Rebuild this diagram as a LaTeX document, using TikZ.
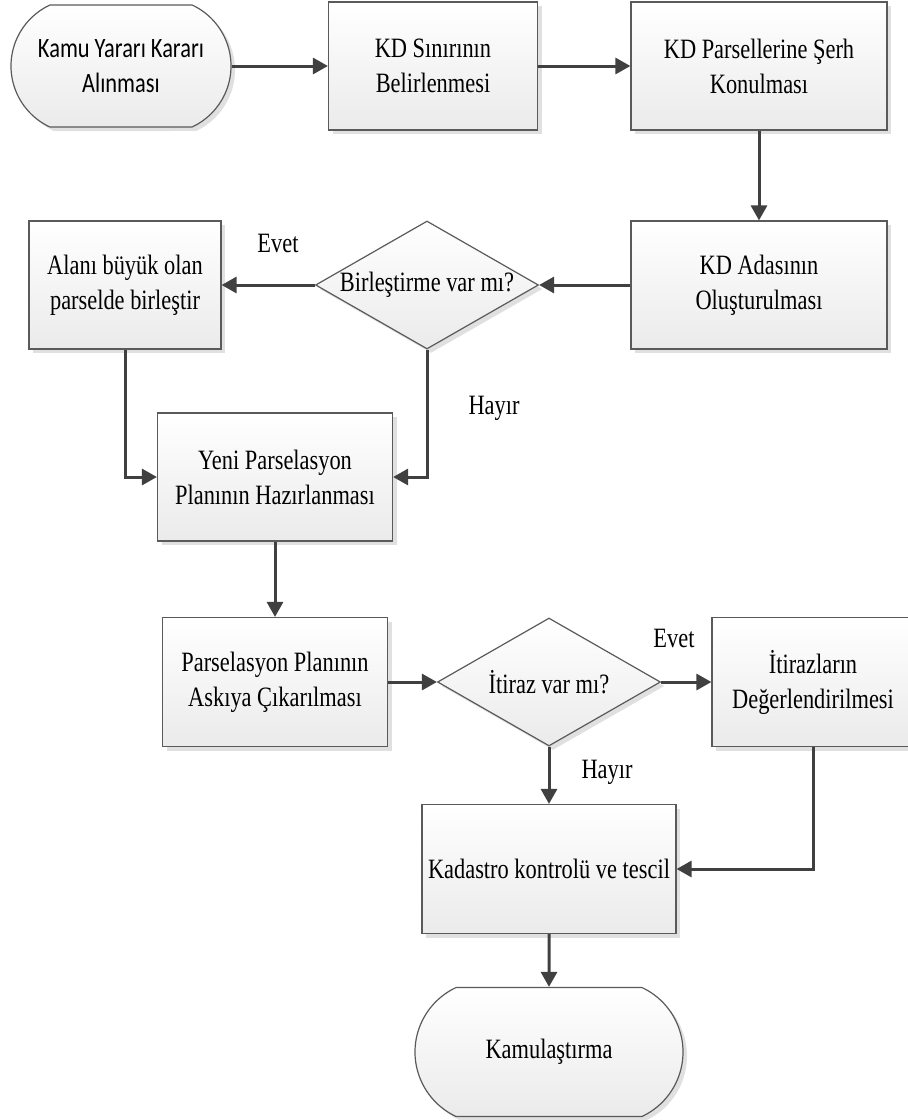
\documentclass[tikz,border=0pt]{standalone}
\usepackage{fontspec}
\setmainfont{Liberation Serif}[FakeStretch=0.8]
\newfontfamily\calibri{Carlito}[FakeStretch=0.8]
\usepackage{tikz}
\usetikzlibrary{arrows.meta}
\usetikzlibrary{shapes}
\usetikzlibrary{shapes.geometric}
\usetikzlibrary{shapes.misc}
\usetikzlibrary{shadows}
\definecolor{linegray}{HTML}{404040}
\definecolor{edgegray}{HTML}{5A5A5A}
\tikzset{>={Triangle[length=15pt, width=16pt]}}
\tikzstyle{proc} = [rectangle, draw = edgegray, line width = 1.2pt, top color = white, bottom color = black!8, drop shadow = {shadow xshift = 4pt, shadow yshift = -4pt, fill = black!12, opacity = 1}, align = center, inner sep = 1, font = \fontsize{28}{35}\selectfont]
\tikzstyle{term} = [proc, rounded rectangle, rounded rectangle arc length = 130]
\tikzstyle{cond} = [proc, diamond, inner sep = 0, shape aspect = 1.74]
\tikzstyle{flow} = [->, draw = linegray, line width = 3pt]
\tikzstyle{lbl} = [draw = none, inner sep = 1, font = \fontsize{28}{35}\selectfont]

\begin{document}
\begin{tikzpicture}[x = 1pt, y = -1pt]
\useasboundingbox (0, 0) rectangle (908, 1120);
\node [term, font = \calibri\fontsize{28}{35}\selectfont, minimum width = 222pt, minimum height = 122pt] (T1) at (121, 66) {Kamu Yararı Kararı\\Alınması};
\node [proc, minimum width = 209pt, minimum height = 128pt] (B1) at (433, 66) {KD Sınırının\\Belirlenmesi};
\node [proc, minimum width = 256pt, minimum height = 128pt] (B2) at (759, 66) {KD Parsellerine Şerh\\Konulması};
\node [proc, minimum width = 256pt, minimum height = 128pt] (B3) at (759, 285) {KD Adasının\\Oluşturulması};
\node [cond, minimum width = 223pt, minimum height = 128pt] (D1) at (427, 285) {Birleştirme var mı?};
\node [proc, minimum width = 192pt, minimum height = 128pt] (B4) at (125, 285) {Alanı büyük olan\\parselde birleştir};
\node [proc, minimum width = 235pt, minimum height = 128pt] (B5) at (275, 477) {Yeni Parselasyon\\Planının Hazırlanması};
\node [proc, minimum width = 225pt, minimum height = 129pt] (B6) at (275, 682) {Parselasyon Planının\\Askıya Çıkarılması};
\node [cond, minimum width = 223pt, minimum height = 128pt] (D2) at (549, 682) {İtiraz var mı?};
\node [proc, minimum width = 202pt, minimum height = 129pt] (B7) at (813, 682) {İtirazların\\Değerlendirilmesi};
\node [proc, minimum width = 254pt, minimum height = 129pt] (B8) at (549, 869) {Kadastro kontrolü ve tescil};
\node [term, minimum width = 270pt, minimum height = 129pt] (T2) at (549, 1052) {Kamulaştırma};
% yes / no labels
\node [lbl] (E1) at (278, 243) {Evet};
\node [lbl] (H1) at (494, 408) {Hayır};
\node [lbl] (E2) at (674, 638) {Evet};
\node [lbl] (H2) at (607, 772) {Hayır};
\draw [flow] (T1) to (B1);
\draw [flow] (B1) to (B2);
\draw [flow] (B2) to (B3);
\draw [flow] (B3) to (D1);
\draw [flow] (D1) to (B4);
\draw [flow] (D1.south) |- (B5.east);
\draw [flow] (B4.south) |- (B5.west);
\draw [flow] (B5) to (B6);
\draw [flow] (B6) to (D2);
\draw [flow] (D2) to (B7);
\draw [flow] (D2) to (B8);
\draw [flow] (B7.south) |- (B8.east);
\draw [flow] (B8) to (T2);
\end{tikzpicture}
\end{document}
